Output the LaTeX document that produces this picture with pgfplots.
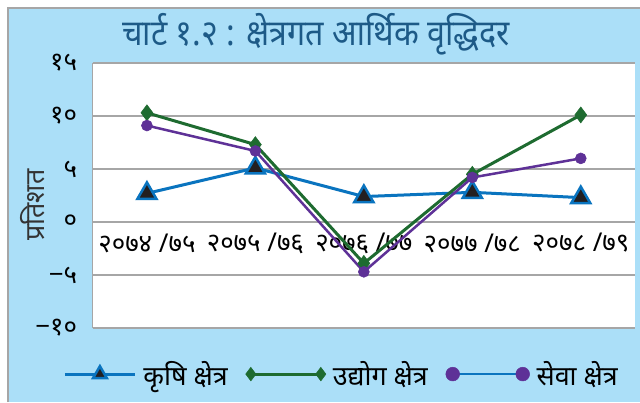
\documentclass[border=0pt]{standalone}
\usepackage{fontspec}
\usepackage{pgfplots}
\pgfplotsset{compat=1.18}
\newfontfamily\deva[Script=Devanagari]{Noto Sans}
\newfontfamily\devatitle[Script=Devanagari,FakeStretch=0.9]{Noto Sans}
\definecolor{bgblue}{HTML}{ABDFF8}
\definecolor{titleblue}{HTML}{1D5A87}
\definecolor{gridgray}{HTML}{A6A6A6}
\definecolor{agblue}{HTML}{0A74BF}
\definecolor{indgreen}{HTML}{1E6B30}
\definecolor{servpurple}{HTML}{5E3197}
\definecolor{markdark}{HTML}{231F20}
\pgfplotsset{
  agleg/.style={legend image code/.code={
    \draw[##1, mark repeat=2, mark phase=2, every mark/.append style={scale=0.72}] plot coordinates {(0bp,0bp) (35bp,0bp) (70bp,0bp)};}},
  endsleg/.style={legend image code/.code={
    \draw[##1, every mark/.append style={scale=0.85}] plot coordinates {(0bp,0bp) (70bp,0bp)};}},
  servleg/.style={legend image code/.code={
    \draw[##1, draw=agblue, every mark/.append style={scale=1.25}] plot coordinates {(0bp,0bp) (70bp,0bp)};}},
}
\begin{document}
\begin{tikzpicture}[x=1bp,y=1bp]
\path[use as bounding box] (0,0) rectangle (640,402);
\fill[white] (0,0) rectangle (640,402);
\fill[bgblue] (8,0) rectangle (640,394);
\draw[gridgray, line width=1.5bp] (8,0) -- (8,394) -- (640,394);
\node[font=\devatitle\fontsize{36}{40}\selectfont, text=titleblue] at (316,368) {चार्ट १.२ : क्षेत्रगत आर्थिक वृद्धिदर};
\node[rotate=90, font=\deva\fontsize{27}{30}\selectfont, text=black!80] at (33,197) {प्रतिशत};
\begin{axis}[
  at={(92.7bp,74bp)}, anchor=south west,
  width=542.3bp, height=265bp, scale only axis,
  xmin=-0.5, xmax=4.5, ymin=-10, ymax=15,
  axis background/.style={fill=white},
  axis x line*=bottom, axis y line*=left,
  axis line style={draw=gridgray, line width=1.5bp, -},
  xtick={0,1,2,3,4},
  xticklabels={२०७४ /७५, २०७५ /७६, २०७६ /७७, २०७७ /७८, २०७८ /७९},
  ytick={-10,-5,0,5,10,15},
  yticklabels={−१०, −५, ०, ५, १०, १५},
  major tick length=0pt,
  tick style={draw=none},
  ymajorgrids, grid style={draw=gridgray, line width=1.5bp},
  ticklabel style={font=\deva\fontsize{26}{28}\selectfont, text=black},
  xticklabel style={anchor=center, yshift=85bp},
  yticklabel style={anchor=east, xshift=-12bp},
  clip=false,
  legend columns=3,
  legend style={at={(0.459,-0.174)}, anchor=center, draw=none, fill=none,
    font=\deva\fontsize{27}{30}\selectfont,
    /tikz/every odd column/.append style={column sep=5bp},
    /tikz/every even column/.append style={column sep=16bp}},
]
\addplot[agblue, line width=3bp, mark=triangle*, mark size=11bp,
  mark options={fill=markdark, draw=agblue, line width=2.5bp}, agleg]
  coordinates {(0,2.7) (1,5.1) (2,2.4) (3,2.8) (4,2.3)};
\addlegendentry{कृषि क्षेत्र}
\addplot[indgreen, line width=3bp, mark=diamond*, mark size=8bp,
  mark options={fill=indgreen, draw=indgreen, line width=0.5bp}, endsleg]
  coordinates {(0,10.3) (1,7.3) (2,-3.9) (3,4.5) (4,10.1)};
\addlegendentry{उद्योग क्षेत्र}
\addplot[servpurple, line width=2.5bp, mark=*, mark size=5.5bp,
  mark options={fill=servpurple, draw=servpurple, line width=0.5bp}, servleg]
  coordinates {(0,9.1) (1,6.7) (2,-4.7) (3,4.2) (4,6.0)};
\addlegendentry{सेवा क्षेत्र}
\end{axis}
\end{tikzpicture}
\end{document}
